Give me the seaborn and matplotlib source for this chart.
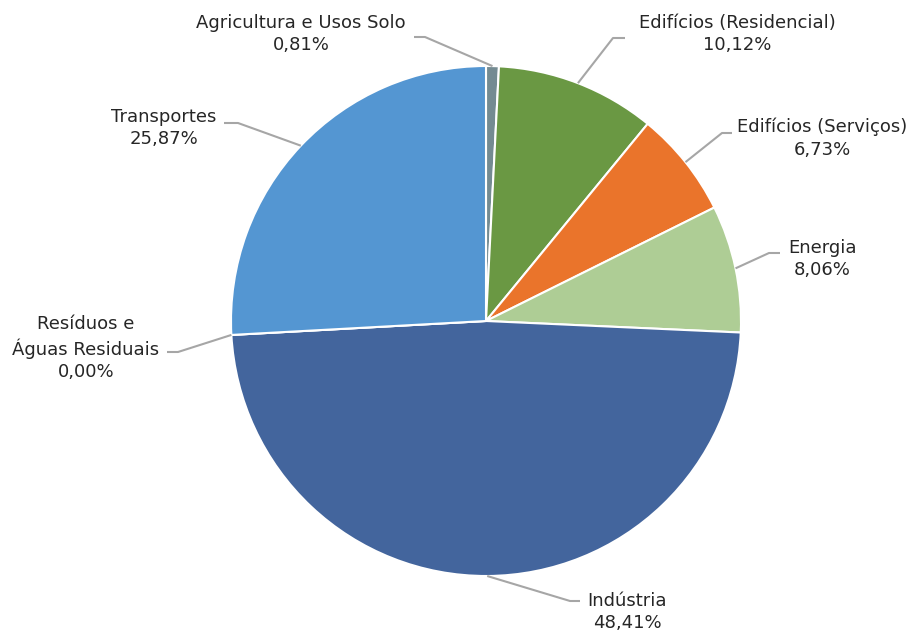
import numpy as np
import matplotlib
matplotlib.use("Agg")
import matplotlib.pyplot as plt
import seaborn as sns

categories = ["Agricultura e Usos Solo", "Edifícios (Residencial)", "Edifícios (Serviços)",
              "Energia", "Indústria", "Resíduos e\nÁguas Residuais", "Transportes"]
values = [0.81, 10.12, 6.73, 8.06, 48.41, 0.00, 25.87]
value_labels = ["0,81%", "10,12%", "6,73%", "8,06%", "48,41%", "0,00%", "25,87%"]
colors = ["#748b92", "#6a9843", "#ea742b", "#aecd95", "#43659d", "#a5a5a5", "#5496d2"]

sns.set_theme(style="white")
plt.rcParams["font.family"] = ["DejaVu Sans"]

W, H = 907, 631
fig = plt.figure(figsize=(W / 100, H / 100), dpi=100)
ax = fig.add_axes([0, 0, 1, 1])

cx, cy, R = 486, H - 321, 255
ax.pie(values, colors=colors, startangle=90, counterclock=False, center=(cx, cy), radius=R,
       wedgeprops=dict(edgecolor="white", linewidth=1.5), frame=True)
ax.set_xlim(0, W)
ax.set_ylim(0, H)
ax.set_aspect("equal")
ax.axis("off")

# layout: (elbow x, elbow y from top, line end x, text center x, first line center y from top)
layout = [
    (425, 37, 414, 301, 22),
    (613, 38, 625, 737, 22),
    (722, 133, 732, 822, 126),
    (769, 253, 780, 822, 247),
    (570, 601, 580, 627, 600),
    (178, 352, 167, 86, 323),
    (238, 123, 224, 164, 116),
]

total = sum(values)
cum = 0.0
for cat, v, vl, lay in zip(categories, values, value_labels, layout):
    mid = (cum + v / 2) / total * 360.0
    cum += v
    ang = np.deg2rad(90 - mid)
    px, py = cx + R * np.cos(ang), cy + R * np.sin(ang)
    ex, ey, lx, tx, ty = lay
    ax.plot([px, ex, lx], [py, H - ey, H - ey], color="#a6a6a6", lw=1.5, solid_capstyle="butt", zorder=3)
    text = cat + "\n" + vl
    ax.text(tx, H - ty + 8, text, ha="center", va="top", fontsize=13, color="#262626",
            linespacing=1.32)

fig.savefig("out.png", dpi=100)
